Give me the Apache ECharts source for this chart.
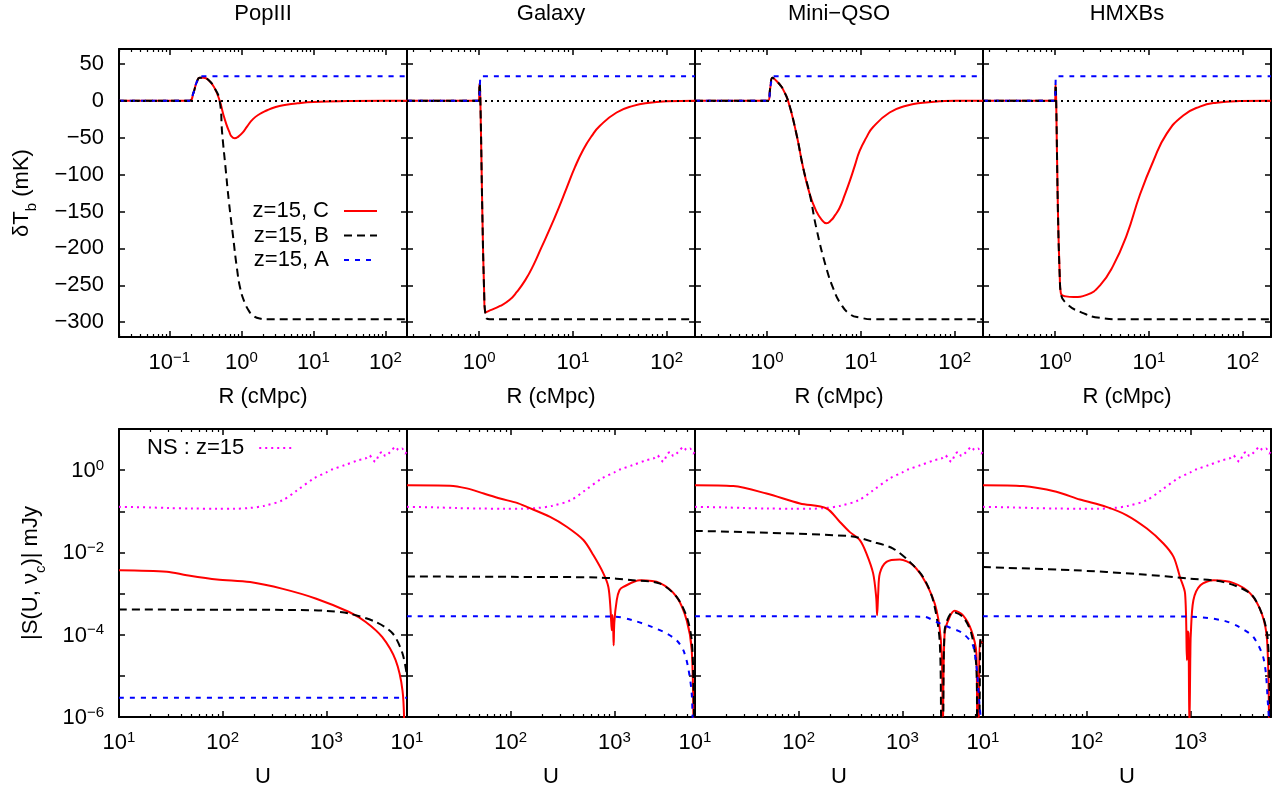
<!DOCTYPE html>
<html>
<head>
<meta charset="utf-8">
<script src="https://cdn.jsdelivr.net/npm/echarts@6/dist/echarts.min.js"></script>
<style>
  html, body { margin: 0; padding: 0; background: #fff; }
  #chart { width: 1284px; height: 792px; }
</style>
</head>
<body>
<div id="chart"></div>
<script>
// panel titles and axis ranges
const panelNames = ['PopIII', 'Galaxy', 'Mini\u2212QSO', 'HMXBs'];
const rMin = [0.02, 0.17, 0.17, 0.17];
const rMax = 200;
const uMin = 10, uMax = 6000;
const tbMin = -320, tbMax = 70;
const sMin = 1e-6, sMax = 10;

// top row: delta T_b (mK) vs R (cMpc)
const popC = [[0.02,0],[0.19,0],[0.215,10],[0.24,25],[0.265,31],[0.3,31],[0.35,28],[0.42,18],[0.5,0],[0.56,-18],[0.62,-32],[0.68,-42],[0.725,-48],[0.81,-51],[0.9,-49],[1.05,-43],[1.2,-35],[1.45,-25],[1.8,-18],[2.2,-13.6],[3,-8.5],[4.2,-5.5],[6,-3.5],[10,-1.8],[30,-0.5],[100,0],[200,0]];
const popB = [[0.02,0],[0.19,0],[0.215,10],[0.24,25],[0.265,31],[0.3,31],[0.35,28],[0.42,18],[0.5,0],[0.543,-45],[0.604,-91],[0.671,-136],[0.764,-182],[0.869,-227],[0.97,-255],[1.11,-273],[1.3,-286],[1.45,-291],[1.8,-295],[2.23,-296],[200,-296]];
const popA = [[0.02,0],[0.19,0],[0.215,10],[0.24,25],[0.265,32],[0.28,33],[200,33]];

const galC = [[0.17,0],[0.99,0],[1.01,24],[1.03,0],[1.08,-150],[1.13,-260],[1.16,-287],[1.3,-284],[1.67,-278],[2.1,-270],[2.52,-259],[3.1,-243],[3.78,-223],[4.6,-199],[5.69,-173],[7,-146],[8.57,-118],[10.5,-90],[12.9,-66],[15.8,-48],[19.4,-34],[29.2,-16],[43.8,-7],[66,-2.7],[99,-0.9],[200,0]];
const galB = [[0.17,0],[0.99,0],[1.01,24],[1.03,0],[1.08,-150],[1.13,-260],[1.16,-287],[1.2,-295],[1.3,-296],[200,-296]];
const galA = [[0.17,0],[1.0,0],[1.02,24],[1.04,33],[200,33]];

const qsoC = [[0.17,0],[1.02,0],[1.08,18],[1.14,31],[1.25,27],[1.4,20],[1.48,15],[1.67,0],[2.05,-45],[2.42,-91],[2.85,-127],[3.35,-150],[3.8,-161],[4.28,-166],[4.8,-162],[5.3,-155],[5.93,-145],[6.7,-128],[7.59,-109],[8.6,-88],[9.68,-68],[11.4,-50],[13.4,-36],[20.2,-16],[30.4,-6.8],[45.7,-2.7],[68.7,-0.9],[103,0],[200,0]];
const qsoB = [[0.17,0],[1.02,0],[1.08,18],[1.14,31],[1.25,27],[1.4,20],[1.48,15],[1.67,0],[2.05,-45],[2.42,-91],[2.85,-127],[3.35,-173],[4.28,-227],[5.2,-258],[5.94,-273],[7.6,-289],[10,-294],[13.4,-296],[200,-296]];
const qsoA = [[0.17,0],[1.02,0],[1.08,18],[1.13,31],[1.16,33],[200,33]];

const hmxC = [[0.17,0],[0.995,0],[1.01,22],[1.025,0],[1.07,-150],[1.12,-240],[1.15,-261],[1.3,-265],[1.57,-266],[2.17,-263],[3.01,-250],[4.17,-223],[5.79,-182],[8.02,-127],[11.1,-82],[15.4,-45],[23.2,-20],[34.9,-8],[52.5,-2.7],[93,-0.5],[200,0]];
const hmxB = [[0.17,0],[0.995,0],[1.01,22],[1.025,0],[1.07,-150],[1.12,-240],[1.15,-261],[1.33,-275],[1.85,-286],[3.0,-294],[5.33,-296],[200,-296]];
const hmxA = [[0.17,0],[1.0,0],[1.01,24],[1.025,33],[200,33]];

// bottom row: |S(U, nu_c)| (mJy) vs U
const nsS = [[10,0.128],[20,0.124],[30,0.12],[50,0.117],[88,0.115],[130,0.115],[180,0.12],[250,0.135],[380,0.186],[520,0.32],[760,0.63],[1000,0.88],[1150,1.05],[1500,1.32],[2050,1.75],[2380,1.9],[2600,2.3],[2760,1.92],[2970,1.6],[3200,2.32],[3450,2.79],[3720,2.2],[4000,2.55],[4300,3.07],[4630,3.7],[4990,3.07],[5370,3.37],[5760,2.55],[6000,2.8]];

const popSC = [[10,3.69e-3],[29,3.4e-3],[45,2.8e-3],[88,2.2e-3],[184,1.9e-3],[381,1.3e-3],[800,7.5e-4],[1660,3.56e-4],[2400,2.04e-4],[3470,8.7e-5],[4660,2.4e-5],[5430,4.4e-6],[5650,5e-7]];
const popSB = [[10,4.08e-4],[500,4e-4],[1000,3.8e-4],[1660,3.26e-4],[3000,2.04e-4],[4370,1.07e-4],[5430,3.5e-5],[6000,1e-5]];
const popSA = [[10,2.95e-6],[6000,2.95e-6]];

const galSC = [[10,0.43],[26,0.42],[37.8,0.36],[55,0.27],[79,0.204],[115,0.16],[143,0.128],[240,0.073],[347,0.042],[503,0.02],[629,8.5e-3],[784,3.1e-3],[876,1.45e-3],[920,4e-4],[944,1.28e-4],[960,3e-4],[975,1.5e-4],[985,5.5e-5],[1000,2e-4],[1055,6.9e-4],[1120,1.2e-3],[1220,1.45e-3],[1770,2.1e-3],[2760,1.8e-3],[3990,8.3e-4],[5000,2.2e-4],[5580,4.2e-5],[5800,5e-7]];
const galSB = [[10,2.6e-3],[100,2.55e-3],[725,2.45e-3],[1510,2.1e-3],[2760,1.75e-3],[3990,8.3e-4],[5000,2.7e-4],[5580,7.3e-5],[5800,6.4e-6],[5900,5e-7]];
const galSA = [[10,2.8e-4],[1000,2.75e-4],[1510,2.24e-4],[2380,1.5e-4],[3200,1.07e-4],[3990,7.3e-5],[4630,4.2e-5],[5150,1.6e-5],[5580,3.7e-6],[5700,5e-7]];

const qsoSC = [[10,0.43],[23.4,0.41],[49,0.27],[103,0.155],[186,0.117],[250,0.055],[310,0.0316],[389,0.02],[451,9.4e-3],[523,3.1e-3],[560,8e-4],[571,2.96e-4],[585,1e-3],[607,3.1e-3],[703,5.9e-3],[945,6.7e-3],[1270,4.9e-3],[1700,1.75e-3],[2140,3.9e-4],[2390,4.2e-5],[2460,5e-7],[2560,1.1e-4],[2860,2.7e-4],[3200,3.8e-4],[3850,2.96e-4],[4630,1.28e-4],[5180,3.5e-5],[5300,5e-7],[5450,5e-7],[5580,7.3e-5],[6000,6e-5]];
const qsoSB = [[10,0.0334],[310,0.025],[523,0.018],[815,0.0124],[1180,5.9e-3],[1590,2.5e-3],[1980,6.9e-4],[2290,7.3e-5],[2390,5e-7],[2460,5e-7],[2560,1.28e-4],[3090,3.56e-4],[3850,2.7e-4],[4630,1.07e-4],[5180,1.6e-5],[5300,5e-7],[5500,5e-7],[5700,8e-5],[6000,6e-5]];
const qsoSA = [[10,2.8e-4],[1590,2.75e-4],[2140,2.04e-4],[2860,1.5e-4],[3850,1.07e-4],[4860,5e-5],[5580,1.8e-6],[5800,5e-7]];

const hmxSC = [[10,0.43],[24.4,0.41],[51,0.297],[86,0.193],[155,0.128],[244,0.08],[381,0.038],[550,0.0165],[689,7.8e-3],[795,2.5e-3],[890,1e-3],[927,2.4e-5],[945,1.2e-4],[960,1.07e-4],[980,5e-7],[1000,3e-5],[1010,1e-4],[1070,6.9e-4],[1250,1.6e-3],[1680,2.1e-3],[2620,1.8e-3],[3800,1e-3],[4890,3.26e-4],[5500,7.3e-5],[5750,5e-7]];
const hmxSB = [[10,4.4e-3],[74,3.7e-3],[327,2.95e-3],[1000,2.3e-3],[2090,1.9e-3],[3800,1e-3],[4890,3.3e-4],[5500,1.07e-4],[5750,1.6e-5],[5850,5e-7]];
const hmxSA = [[10,2.8e-4],[1000,2.75e-4],[2090,2.2e-4],[3010,1.5e-4],[4070,8.7e-5],[5130,2.4e-5],[5630,1.8e-6],[5800,5e-7]];

const topC = [popC, galC, qsoC, hmxC];
const topB = [popB, galB, qsoB, hmxB];
const topA = [popA, galA, qsoA, hmxA];
const botC = [popSC, galSC, qsoSC, hmxSC];
const botB = [popSB, galSB, qsoSB, hmxSB];
const botA = [popSA, galSA, qsoSA, hmxSA];

const font = 'Liberation Sans, Arial, Helvetica, sans-serif';
const black = '#000';
const lefts = [119, 407, 695, 983];
const panelW = 288, panelH = 288;
const topRow = 49, botRow = 429;

const chart = echarts.init(document.getElementById('chart'));

const powRich = {
  b: { fontSize: 22, fontFamily: font, color: black, lineHeight: 24, verticalAlign: 'bottom' },
  s: { fontSize: 15, fontFamily: font, color: black, lineHeight: 15, verticalAlign: 'top' }
};
function powLabel(v, evenOnly) {
  const l = Math.log10(v);
  const e = Math.round(l);
  if (Math.abs(l - e) > 1e-6) return '';
  if (evenOnly && e % 2 !== 0) return '';
  return '{b|10}{s|' + String(e).replace('-', '\u2212') + '}';
}
function linLabel(v) {
  if (v % 50 !== 0) return '';
  return v < 0 ? '\u2212' + (-v) : String(v);
}

function axisBase(extra) {
  return Object.assign({
    axisLine: { show: true, onZero: false, lineStyle: { color: black, width: 2 } },
    axisTick: { show: true, inside: true, length: 6, lineStyle: { color: black, width: 1.5 } },
    splitLine: { show: false },
    nameTextStyle: { fontSize: 22, fontFamily: font, color: black }
  }, extra);
}
const minor = { show: true, splitNumber: 9, length: 3, lineStyle: { color: black, width: 1.2 } };

const grids = [], xAxes = [], yAxes = [], series = [];

function addPanel(row, i) {
  const g = grids.length;
  grids.push({ left: lefts[i], top: row === 0 ? topRow : botRow, width: panelW, height: panelH });
  const isTop = row === 0;
  const xr = isTop ? { type: 'log', logBase: 10, min: rMin[i], max: rMax }
                   : { type: 'log', logBase: 10, min: uMin, max: uMax };
  const yr = isTop ? { type: 'value', min: tbMin, max: tbMax, splitNumber: 8 }
                   : { type: 'log', logBase: 10, min: sMin, max: sMax };
  const xi = xAxes.length, yi = yAxes.length;
  xAxes.push(axisBase(Object.assign({}, xr, {
    gridIndex: g, position: 'bottom',
    name: isTop ? 'R (cMpc)' : 'U', nameLocation: 'middle', nameGap: 49,
    minorTick: minor,
    axisLabel: { margin: 13, showMinLabel: true, formatter: v => powLabel(v, false), rich: powRich }
  })));
  xAxes.push(axisBase(Object.assign({}, xr, {
    gridIndex: g, position: 'top',
    name: isTop ? panelNames[i] : '', nameLocation: 'middle', nameGap: 24,
    minorTick: minor,
    axisLabel: { show: false }
  })));
  const yLeft = {
    gridIndex: g, position: 'left',
    axisLabel: i === 0
      ? (isTop ? { margin: 15, fontSize: 22, fontFamily: font, color: black, formatter: linLabel }
               : { margin: 15, formatter: v => powLabel(v, true), rich: powRich })
      : { show: false }
  };
  if (i === 0) {
    yLeft.nameLocation = 'middle';
    if (isTop) {
      yLeft.name = '{n|\u03B4T}{u|b}{n| (mK)}';
      yLeft.nameGap = 80;
    } else {
      yLeft.name = '{n||S(U, \u03BD}{u|c}{n|)| mJy}';
      yLeft.nameGap = 71;
    }
    yLeft.nameTextStyle = {
      fontSize: 22, fontFamily: font, color: black,
      rich: {
        n: { fontSize: 22, fontFamily: font, color: black, lineHeight: 28, verticalAlign: 'top' },
        u: { fontSize: 15, fontFamily: font, color: black, lineHeight: 15, verticalAlign: 'bottom' }
      }
    };
  }
  yAxes.push(axisBase(Object.assign({}, yr, yLeft)));
  yAxes.push(axisBase(Object.assign({}, yr, { gridIndex: g, position: 'right', axisLabel: { show: false } })));

  function line(name, data, color, type, extra) {
    series.push(Object.assign({
      type: 'line', name, data, xAxisIndex: xi, yAxisIndex: yi,
      showSymbol: false, symbol: 'none', smooth: isTop ? 0.5 : 0.3,
      lineStyle: { color, width: 2, type }, itemStyle: { color },
      silent: true, clip: true
    }, extra || {}));
  }
  if (isTop) {
    line('z=15, C', topC[i], '#ff0000', 'solid');
    line('z=15, B', topB[i], black, [8, 5]);
    line('z=15, A', topA[i], '#0000ff', [5, 6], {
      markLine: {
        silent: true, symbol: ['none', 'none'], label: { show: false },
        lineStyle: { color: black, width: 2, type: [2, 4] },
        data: [{ yAxis: 0 }]
      }
    });
  } else {
    line('NS : z=15', nsS, '#ff00ff', [2, 4]);
    line('z=15, C', botC[i], '#ff0000', 'solid');
    line('z=15, B', botB[i], black, [8, 5]);
    line('z=15, A', botA[i], '#0000ff', [5, 6]);
  }
}

for (let i = 0; i < 4; i++) addPanel(0, i);
for (let i = 0; i < 4; i++) addPanel(1, i);

const legendText = { fontSize: 22, fontFamily: font, color: black, padding: [0, 10, 0, 0] };
const option = {
  animation: false,
  backgroundColor: '#fff',
  grid: grids,
  xAxis: xAxes,
  yAxis: yAxes,
  legend: [
    {
      data: ['z=15, C', 'z=15, B', 'z=15, A'], orient: 'vertical', align: 'right',
      right: 906, top: 200, padding: 0, itemGap: 2.5, itemWidth: 33, itemHeight: 14,
      itemStyle: { opacity: 0 },
      selectedMode: false, textStyle: legendText
    },
    {
      data: ['NS : z=15'], orient: 'vertical', align: 'right',
      left: 147, top: 437, padding: 0, itemWidth: 33, itemHeight: 14,
      itemStyle: { opacity: 0 },
      selectedMode: false, textStyle: legendText
    }
  ],
  series: series
};
chart.setOption(option);
</script>
</body>
</html>
